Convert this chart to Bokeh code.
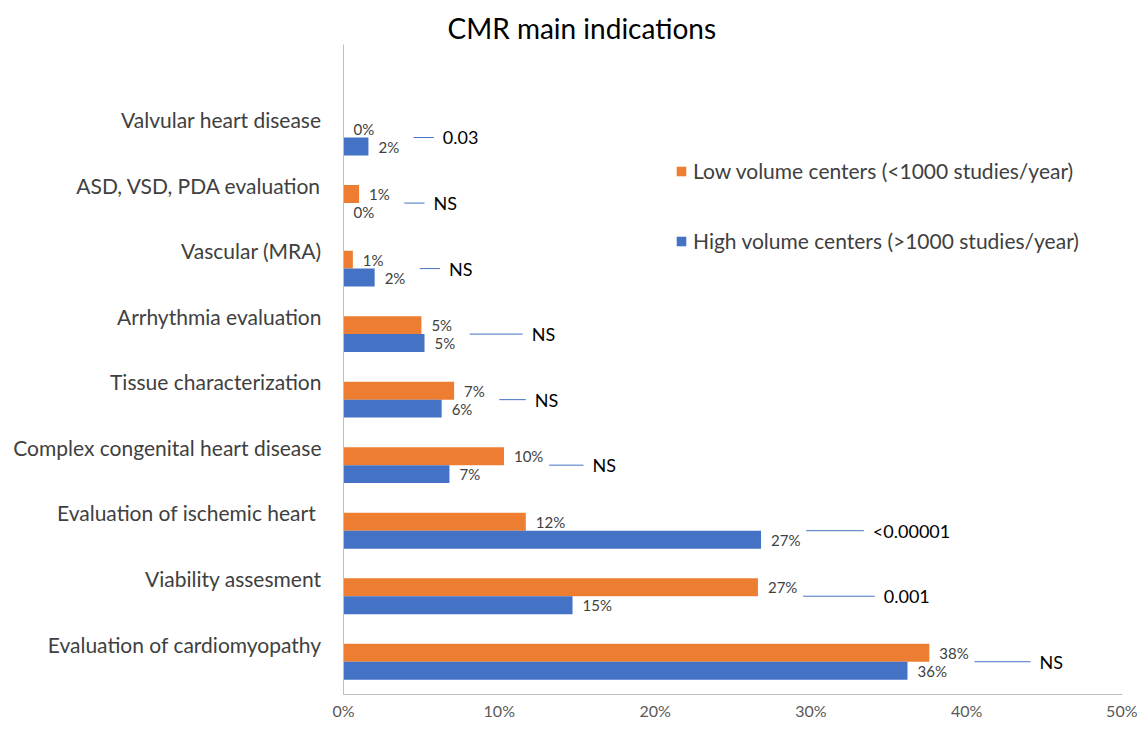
import math
from bokeh.plotting import figure
from bokeh.models import (ColumnDataSource, FixedTicker, PrintfTickFormatter,
                          Legend, LegendItem)
from bokeh.core.properties import value
from bokeh.embed import file_html
from bokeh.resources import INLINE

# ---- data (top to bottom as shown) ----
categories = ["Valvular heart disease", "ASD, VSD, PDA evaluation", "Vascular (MRA)",
              "Arrhythmia evaluation", "Tissue characterization",
              "Complex congenital heart disease", "Evaluation of ischemic heart ",
              "Viability assesment", "Evaluation of cardiomyopathy"]
low_volume = [0.0, 1.0, 0.6, 5.0, 7.1, 10.3, 11.7, 26.6, 37.6]
high_volume = [1.6, 0.0, 2.0, 5.2, 6.3, 6.8, 26.8, 14.7, 36.2]
p_values = ["0.03", "NS", "NS", "NS", "NS", "NS", "<0.00001", "0.001", "NS"]
connector_len = [1.3, 1.3, 1.3, 3.4, 1.7, 2.2, 3.7, 4.6, 3.6]
x_ticks = [0, 10, 20, 30, 40, 50]

ORANGE = "#ED7D31"
BLUE = "#4472C4"
FONT = "Lato"

n = len(categories)
UNIT = 100
centers = [(n - 1 - i) * UNIT for i in range(n)]
BAR_H = 27.4
low_y = [c + BAR_H / 2 for c in centers]
high_y = [c - BAR_H / 2 for c in centers]
label_pos = [c + 27 for c in centers]

def pct(v):
    return f"{math.floor(v + 0.5)}%"

src = ColumnDataSource(dict(
    low=low_volume, high=high_volume, ly=low_y, hy=high_y, cy=centers,
    low_lbl=[pct(v) for v in low_volume], high_lbl=[pct(v) for v in high_volume],
    x0=[max(a, b) + 2.9 for a, b in zip(low_volume, high_volume)],
    x1=[max(a, b) + 2.9 + L for a, b, L in zip(low_volume, high_volume, connector_len)],
    p=p_values,
))

p = figure(width=1137, height=722, output_backend="svg", toolbar_location=None,
           x_range=(0, 50), y_range=(-UNIT / 2, (n - 0.5 + 0.92) * UNIT),
           min_border_left=343, min_border_right=15, min_border_top=44,
           min_border_bottom=25)

p.title.text = "CMR main indications"
p.title.text_font = FONT
p.title.text_font_size = "28px"
p.title.text_font_style = "normal"
p.title.text_color = "#000000"
p.title.align = "left"
p.title.offset = 104
p.title.standoff = 0

r_low = p.hbar(y="ly", right="low", left=0, height=BAR_H, source=src,
               fill_color=ORANGE, line_color=None)
r_high = p.hbar(y="hy", right="high", left=0, height=BAR_H, source=src,
                fill_color=BLUE, line_color=None)

p.text(x="low", y="ly", text="low_lbl", source=src, x_offset=10,
       text_baseline="middle", text_align="left", text_font=value(FONT),
       text_font_size="15px", text_color="#404040")
p.text(x="high", y="hy", text="high_lbl", source=src, x_offset=10,
       text_baseline="middle", text_align="left", text_font=value(FONT),
       text_font_size="15px", text_color="#404040")

p.segment(x0="x0", y0="cy", x1="x1", y1="cy", source=src,
          line_color=BLUE, line_width=1)
p.text(x="x1", y="cy", text="p", source=src, x_offset=9,
       text_baseline="middle", text_align="left", text_font=value(FONT),
       text_font_size="18px", text_color="#000000")

# axes
p.xaxis.ticker = FixedTicker(ticks=x_ticks)
p.xaxis.formatter = PrintfTickFormatter(format="%d%%")
p.xaxis.major_label_text_font = FONT
p.xaxis.major_label_text_font_size = "16px"
p.xaxis.major_label_text_color = "#595959"
p.xaxis.major_label_standoff = 6
p.xaxis.axis_line_color = "#bfbfbf"
p.xaxis.major_tick_line_color = None
p.xaxis.minor_tick_line_color = None
p.xaxis.major_tick_out = 0
p.xaxis.minor_tick_out = 0
p.xaxis.major_tick_in = 0
p.xaxis.minor_tick_in = 0

p.yaxis.ticker = FixedTicker(ticks=label_pos)
p.yaxis.major_label_overrides = {lp: c for lp, c in zip(label_pos, categories)}
p.yaxis.major_label_text_font = FONT
p.yaxis.major_label_text_font_size = "21px"
p.yaxis.major_label_text_color = "#404040"
p.yaxis.major_label_standoff = 16
p.yaxis.axis_line_color = "#bfbfbf"
p.yaxis.major_tick_line_color = None
p.yaxis.minor_tick_line_color = None

p.xgrid.grid_line_color = None
p.ygrid.grid_line_color = None
p.outline_line_color = None

legend = Legend(items=[
    LegendItem(label="Low volume centers (<1000 studies/year)", renderers=[r_low]),
    LegendItem(label="High volume centers (>1000 studies/year)", renderers=[r_high]),
], location=(332, 441))
legend.label_text_font = FONT
legend.label_text_font_size = "21px"
legend.label_text_color = "#404040"
legend.glyph_width = 12
legend.glyph_height = 12
legend.label_standoff = 6
legend.spacing = 45
legend.padding = 0
legend.margin = 0
legend.border_line_color = None
legend.background_fill_alpha = 0
p.add_layout(legend, "center")

open("out.html", "w").write(file_html(p, INLINE))
